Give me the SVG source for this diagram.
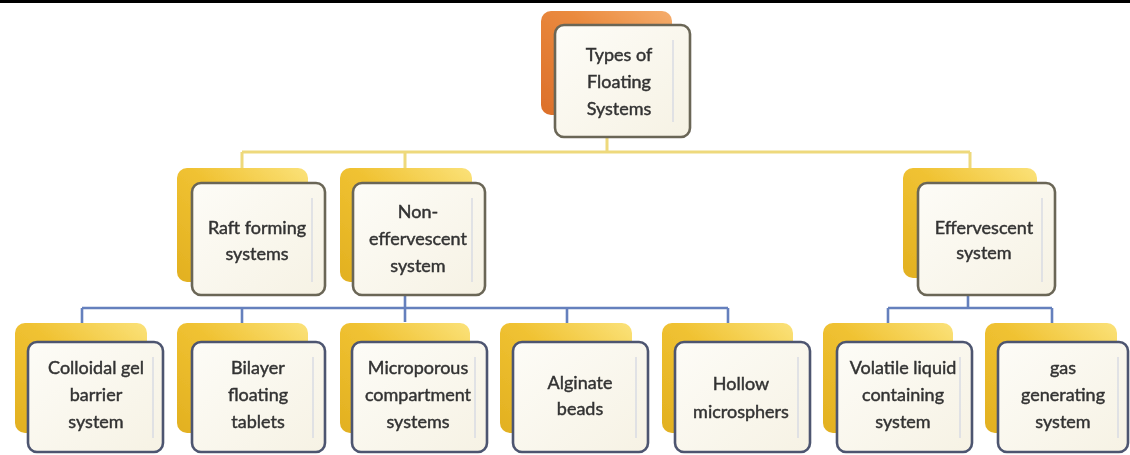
<svg xmlns="http://www.w3.org/2000/svg" width="1130" height="455" viewBox="0 0 1130 455">
  <defs>
    <linearGradient id="gold" x1="0" y1="1" x2="1" y2="0">
      <stop offset="0" stop-color="#e2b020"/>
      <stop offset="0.55" stop-color="#f0c232"/>
      <stop offset="1" stop-color="#fbe27a"/>
    </linearGradient>
    <linearGradient id="orange" x1="0" y1="1" x2="1" y2="0">
      <stop offset="0" stop-color="#dc6f2a"/>
      <stop offset="0.6" stop-color="#ea8a3e"/>
      <stop offset="1" stop-color="#f5ad6c"/>
    </linearGradient>
    <linearGradient id="card" x1="0" y1="0" x2="1" y2="1">
      <stop offset="0" stop-color="#fdfcf7"/>
      <stop offset="1" stop-color="#f6f2e4"/>
    </linearGradient>
    <filter id="soft" x="-5%" y="-5%" width="110%" height="110%">
      <feGaussianBlur stdDeviation="0.7"/>
    </filter>
  </defs>
  <style>
    .back { fill: url(#gold); }
    .back.top { fill: url(#orange); }
    .card { fill: url(#card); stroke: #6b6657; stroke-width: 2.6; }
    .card.low { stroke: #4d5570; }
    .sheen { stroke: #d9dbe3; stroke-width: 1.5; }
    .lbl { font-family: Lato, "Open Sans", "Liberation Sans", sans-serif; font-size: 18px; fill: #333333; stroke: #333333; stroke-width: 0.45; text-anchor: middle; }
    .yel { stroke: #eed97c; stroke-width: 3; fill: none; }
    .blu { stroke: #6580bd; stroke-width: 2.6; fill: none; }
  </style>

  <rect width="1130" height="455" fill="#ffffff"/>
  <rect x="0" y="0" width="1130" height="3" fill="#000000"/>

  <g id="connectors" filter="url(#soft)">
    <!-- root to second level -->
    <path class="yel" d="M607 137 V152 M242 152 H970 M242 152 V168 M405 152 V168 M970 152 V168"/>
    <!-- non-effervescent branch -->
    <path class="blu" d="M405 295 V322 M82 308 H728 M82 308 V323 M242 308 V323 M567 308 V323 M728 308 V323"/>
    <!-- effervescent branch -->
    <path class="blu" d="M968 295 V308 M888 308 H1052 M888 308 V323 M1052 308 V323"/>
  </g>

  <g filter="url(#soft)">
    <g id="node-root">
      <rect class="back top" x="541" y="11" width="131" height="104" rx="10"/>
      <rect class="card" x="555" y="25" width="135" height="112" rx="9"/>
      <line class="sheen" x1="673" y1="40" x2="673" y2="122"/>
      <text class="lbl" x="619" y="61">Types of</text>
      <text class="lbl" x="619" y="88">Floating</text>
      <text class="lbl" x="619" y="115">Systems</text>
    </g>

    <g id="node-raft">
      <rect class="back" x="177" y="168" width="131" height="114" rx="10"/>
      <rect class="card" x="192" y="183" width="133" height="112" rx="9"/>
      <line class="sheen" x1="312" y1="198" x2="312" y2="282"/>
      <text class="lbl" x="257" y="234">Raft forming</text>
      <text class="lbl" x="257" y="260">systems</text>
    </g>

    <g id="node-noneff">
      <rect class="back" x="340" y="168" width="132" height="114" rx="10"/>
      <rect class="card" x="353" y="183" width="132" height="112" rx="9"/>
      <line class="sheen" x1="472" y1="198" x2="472" y2="282"/>
      <text class="lbl" x="418" y="218">Non-</text>
      <text class="lbl" x="418" y="245">effervescent</text>
      <text class="lbl" x="418" y="272">system</text>
    </g>

    <g id="node-eff">
      <rect class="back" x="903" y="168" width="134" height="110" rx="10"/>
      <rect class="card" x="918" y="183" width="137" height="112" rx="9"/>
      <line class="sheen" x1="1042" y1="198" x2="1042" y2="282"/>
      <text class="lbl" x="984" y="234">Effervescent</text>
      <text class="lbl" x="984" y="259">system</text>
    </g>

    <g id="node-colloidal">
      <rect class="back" x="15" y="323" width="132" height="110" rx="10"/>
      <rect class="card low" x="28" y="342" width="135" height="110" rx="9"/>
      <line class="sheen" x1="153" y1="357" x2="153" y2="438"/>
      <text class="lbl" x="96" y="374">Colloidal  gel</text>
      <text class="lbl" x="96" y="401">barrier</text>
      <text class="lbl" x="96" y="428">system</text>
    </g>

    <g id="node-bilayer">
      <rect class="back" x="177" y="323" width="131" height="110" rx="10"/>
      <rect class="card low" x="192" y="342" width="133" height="110" rx="9"/>
      <line class="sheen" x1="313" y1="357" x2="313" y2="438"/>
      <text class="lbl" x="258" y="374">Bilayer</text>
      <text class="lbl" x="258" y="401">floating</text>
      <text class="lbl" x="258" y="428">tablets</text>
    </g>

    <g id="node-microporous">
      <rect class="back" x="340" y="323" width="130" height="110" rx="10"/>
      <rect class="card low" x="352" y="342" width="135" height="110" rx="9"/>
      <line class="sheen" x1="475" y1="357" x2="475" y2="438"/>
      <text class="lbl" x="418" y="374">Microporous</text>
      <text class="lbl" x="418" y="401">compartment</text>
      <text class="lbl" x="418" y="428">systems</text>
    </g>

    <g id="node-alginate">
      <rect class="back" x="500" y="323" width="132" height="110" rx="10"/>
      <rect class="card low" x="513" y="342" width="135" height="110" rx="9"/>
      <line class="sheen" x1="636" y1="357" x2="636" y2="438"/>
      <text class="lbl" x="580" y="389">Alginate</text>
      <text class="lbl" x="580" y="415">beads</text>
    </g>

    <g id="node-hollow">
      <rect class="back" x="662" y="323" width="131" height="110" rx="10"/>
      <rect class="card low" x="675" y="342" width="135" height="110" rx="9"/>
      <line class="sheen" x1="798" y1="357" x2="798" y2="438"/>
      <text class="lbl" x="741" y="390">Hollow</text>
      <text class="lbl" x="741" y="418">microsphers</text>
    </g>

    <g id="node-volatile">
      <rect class="back" x="823" y="323" width="130" height="110" rx="10"/>
      <rect class="card low" x="837" y="342" width="135" height="110" rx="9"/>
      <line class="sheen" x1="960" y1="357" x2="960" y2="438"/>
      <text class="lbl" x="903" y="374">Volatile liquid</text>
      <text class="lbl" x="903" y="401">containing</text>
      <text class="lbl" x="903" y="428">system</text>
    </g>

    <g id="node-gas">
      <rect class="back" x="985" y="323" width="132" height="110" rx="10"/>
      <rect class="card low" x="998" y="342" width="130" height="110" rx="9"/>
      <line class="sheen" x1="1118" y1="357" x2="1118" y2="438"/>
      <text class="lbl" x="1063" y="374">gas</text>
      <text class="lbl" x="1063" y="401">generating</text>
      <text class="lbl" x="1063" y="428">system</text>
    </g>
  </g>
</svg>
